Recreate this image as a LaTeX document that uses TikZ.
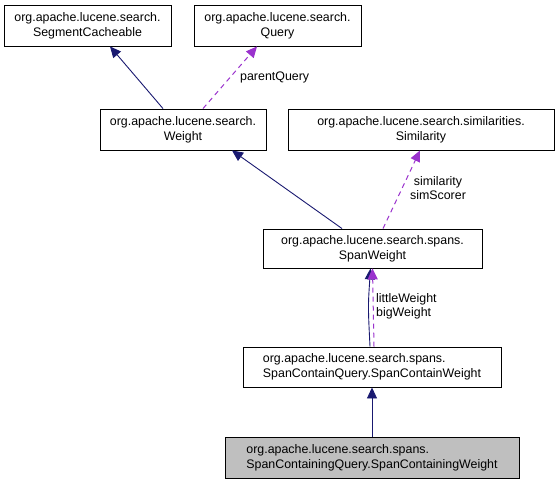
\documentclass[tikz,border=0pt]{standalone}
\usepackage{fontspec}
\setmainfont{Liberation Sans}
\usepackage{tikz}
\usetikzlibrary{arrows.meta}

\definecolor{edgeblue}{HTML}{191970}
\definecolor{edgepurple}{HTML}{9A32CD}
\definecolor{boxgrey}{HTML}{BFBFBF}

\tikzset{
  cls/.style={draw, fill=white, line width=0.9pt, minimum height=41pt, inner sep=2pt,
    font=\fontsize{12.4}{15}\selectfont, align=center},
  inherit/.style={-{Triangle[length=11pt,width=10pt]}, edgeblue, line width=0.9pt},
  usage/.style={-{Triangle[length=11pt,width=10pt]}, edgepurple, line width=1pt,
    dash pattern=on 5pt off 4pt},
  elabel/.style={font=\fontsize{12.4}{14}\selectfont, inner sep=0pt}
}

\begin{document}
\begin{tikzpicture}[x=1pt, y=-1pt]
  \useasboundingbox (0,0) rectangle (560,484);

  % classes
  \node[cls, minimum width=167pt] (seg) at (87.5,25.5)
    {org.apache.lucene.search.\\SegmentCacheable};
  \node[cls, minimum width=167pt] (query) at (277.5,25.5)
    {org.apache.lucene.search.\\Query};
  \node[cls, minimum width=166pt] (weight) at (183,129.5)
    {org.apache.lucene.search.\\Weight};
  \node[cls, minimum width=266pt] (sim) at (421,129.5)
    {org.apache.lucene.search.similarities.\\Similarity};
  \node[cls, minimum width=219pt, minimum height=39pt] (spanw) at (372.5,248.5)
    {org.apache.lucene.search.spans.\\SpanWeight};
  \node[cls, minimum width=258pt, minimum height=40pt, align=left] (contain) at (372,367)
    {org.apache.lucene.search.spans.\\SpanContainQuery.SpanContainWeight};
  \node[cls, fill=boxgrey, minimum width=294pt, align=left] (containing) at (372,457.5)
    {org.apache.lucene.search.spans.\\SpanContainingQuery.SpanContainingWeight};

  % inheritance
  \draw[inherit] ([xshift=-20pt]weight.north) -- ([xshift=22.5pt]seg.south);
  \draw[inherit] ([xshift=-30.5pt]spanw.north) -- ([xshift=49pt]weight.south);
  \draw[inherit] ([xshift=-2pt]contain.north) .. controls ([xshift=-4pt,yshift=40pt]contain.north)
    .. ([xshift=-2pt]spanw.south);
  \draw[inherit] (containing.north) -- (contain.south);

  % usage
  \draw[usage] ([xshift=20pt]weight.north) -- ([xshift=-20.5pt]query.south);
  \draw[usage] ([xshift=10.5pt]spanw.north) -- ([xshift=-1pt]sim.south);
  \draw[usage] ([xshift=2pt]contain.north) -- ([xshift=0pt]spanw.south);

  % member names
  \node[elabel, anchor=west] (lpq) at (240,77) {parentQuery};
  \node[elabel, align=center] (lsim) at (438,188) {similarity\\simScorer};
  \node[elabel, align=left, anchor=west] (lbw) at (376,306) {littleWeight\\bigWeight};
\end{tikzpicture}
\end{document}
